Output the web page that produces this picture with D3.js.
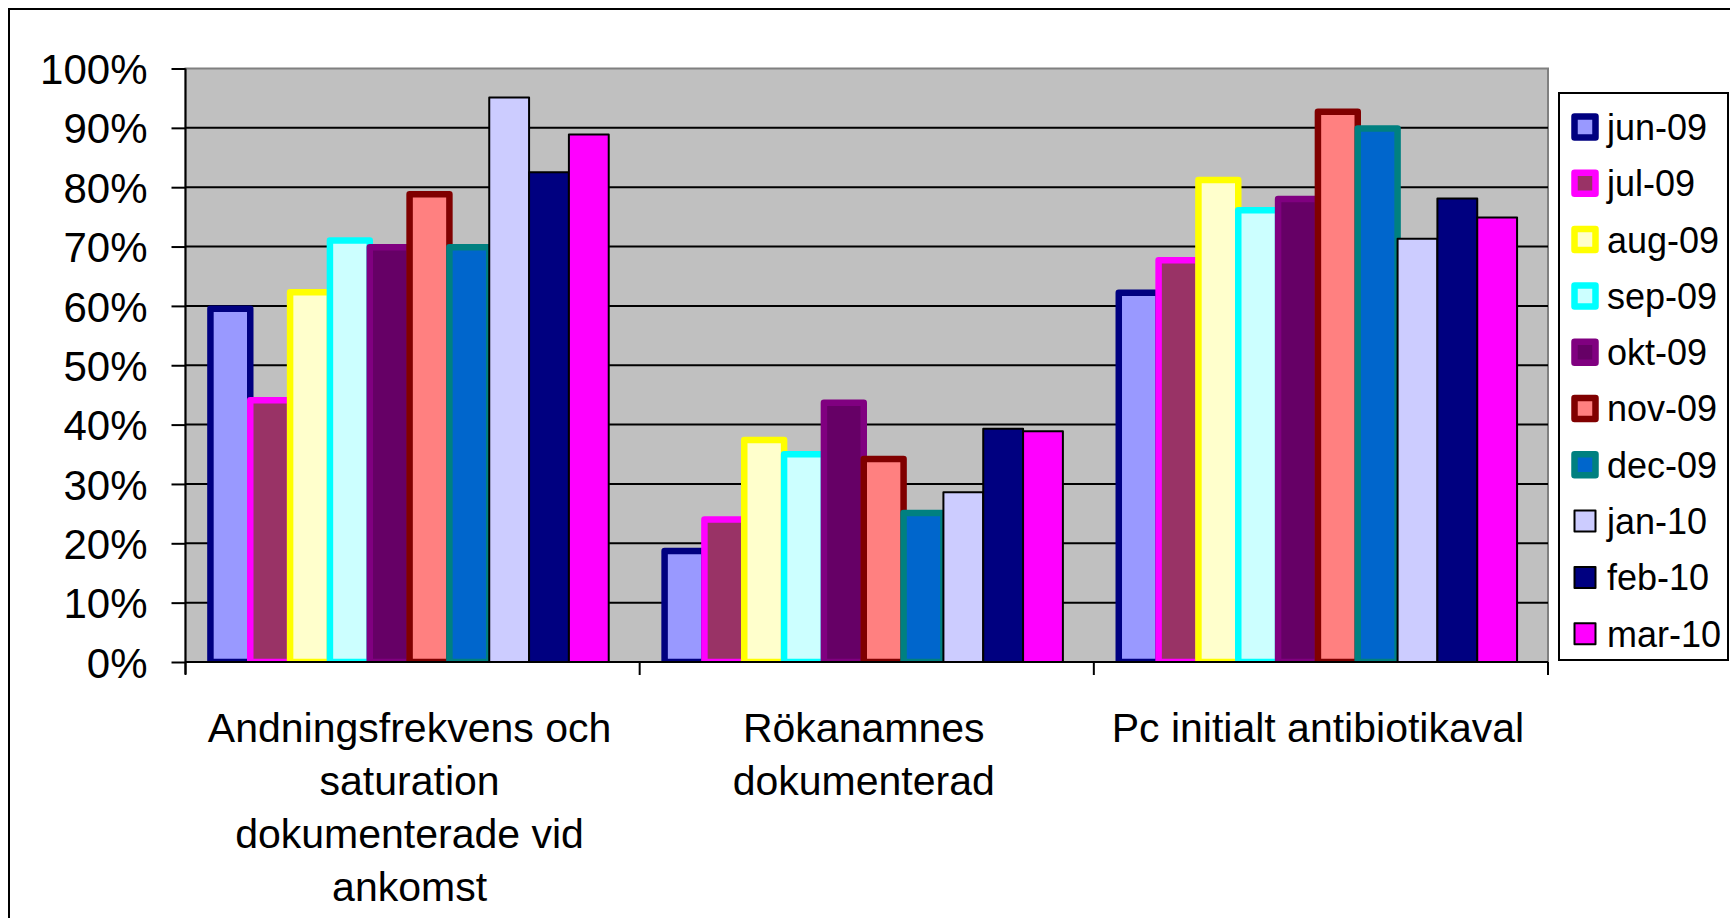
<!DOCTYPE html>
<html>
<head>
<meta charset="utf-8">
<script src="https://cdn.jsdelivr.net/npm/d3@7"></script>
<style>
  body { margin: 0; background: #fff; }
  text { font-family: Arial, "Liberation Sans", sans-serif; fill: #000; }
</style>
</head>
<body>
<svg id="chart" width="1730" height="918"></svg>
<script>
const categories = ['Andningsfrekvens och saturation dokumenterade vid ankomst',
                    'Rökanamnes dokumenterad',
                    'Pc initialt antibiotikaval'];
const categoryLines = [['Andningsfrekvens och', 'saturation', 'dokumenterade vid', 'ankomst'],
                       ['Rökanamnes', 'dokumenterad'],
                       ['Pc initialt antibiotikaval']];
const months = ['jun-09','jul-09','aug-09','sep-09','okt-09','nov-09','dec-09','jan-10','feb-10','mar-10'];

// one array per month, values per category
const jun09 = [0.595, 0.187, 0.622];
const jul09 = [0.441, 0.240, 0.677];
const aug09 = [0.623, 0.374, 0.812];
const sep09 = [0.710, 0.350, 0.761];
const okt09 = [0.699, 0.437, 0.780];
const nov09 = [0.788, 0.342, 0.927];
const dec09 = [0.699, 0.251, 0.899];
const jan10 = [0.951, 0.286, 0.713];
const feb10 = [0.825, 0.393, 0.781];
const mar10 = [0.889, 0.389, 0.749];
const series = [jun09, jul09, aug09, sep09, okt09, nov09, dec09, jan10, feb10, mar10];

const fills   = ['#9999FF','#993366','#FFFFCC','#CCFFFF','#660066','#FF8080','#0066CC','#CCCCFF','#000080','#FF00FF'];
const strokes = ['#000080','#FF00FF','#FFFF00','#00FFFF','#800080','#800000','#008080','#000000','#000000','#000000'];
const thick   = [true, true, true, true, true, true, true, false, false, false];

const yTicks = [0, 0.1, 0.2, 0.3, 0.4, 0.5, 0.6, 0.7, 0.8, 0.9, 1.0];

const plotL = 185.5, plotR = 1548, plotT = 68.5, plotB = 662;
const thickW = 6.5, thinW = 2;
const groupShift = -3;  // Excel sits the bar groups a touch left of centre

const svg = d3.select('#chart');

// chart frame
svg.append('rect')
    .attr('x', 9).attr('y', 9)
    .attr('width', 1760).attr('height', 960)
    .style('fill', 'white')
    .style('stroke', 'black')
    .style('stroke-width', 2);

let y = d3.scaleLinear().domain([0, 1]).range([plotB, plotT]);
let x0 = d3.scaleBand()
    .domain(categories)
    .range([plotL + groupShift, plotR + groupShift])
    .paddingInner(0.123)
    .paddingOuter(0.0615);
let x1 = d3.scaleBand()
    .domain(months)
    .range([0, x0.bandwidth()]);

// plot area
svg.append('rect')
    .attr('x', plotL).attr('y', plotT)
    .attr('width', plotR - plotL).attr('height', plotB - plotT)
    .style('fill', '#C0C0C0')
    .style('stroke', '#808080')
    .style('stroke-width', 2);

svg.append('g')
    .selectAll('line')
    .data(yTicks.slice(1, -1))
    .enter().append('line')
    .attr('x1', plotL).attr('x2', plotR)
    .attr('y1', d => y(d)).attr('y2', d => y(d))
    .style('stroke', 'black')
    .style('stroke-width', 2);

svg.append('clipPath').attr('id', 'plotclip')
    .append('rect')
    .attr('x', plotL).attr('y', 0)
    .attr('width', plotR - plotL).attr('height', plotB);

// bars, drawn month by month so later borders sit on top
let bars = svg.append('g').attr('clip-path', 'url(#plotclip)');
months.forEach((m, i) => {
    bars.selectAll('.bar-' + i)
        .data(series[i])
        .enter().append('rect')
        .attr('class', 'bar-' + i)
        .attr('x', (d, c) => x0(categories[c]) + x1(m))
        .attr('y', d => y(d))
        .attr('width', x1.bandwidth())
        .attr('height', d => plotB - y(d))
        .style('fill', fills[i])
        .style('stroke', strokes[i])
        .style('stroke-width', thick[i] ? thickW : thinW)
        .style('stroke-linejoin', 'round');
});

// y axis
let yAxis = svg.append('g')
    .attr('transform', `translate(${plotL},0)`)
    .call(d3.axisLeft(y)
        .tickValues(yTicks)
        .tickSize(14)
        .tickPadding(24)
        .tickFormat(d3.format('.0%')));
yAxis.select('.domain').remove();
yAxis.selectAll('.tick line').style('stroke', 'black').style('stroke-width', 2);
yAxis.selectAll('.tick text')
    .style('font-size', '42px')
    .attr('dy', '0.36em');
svg.append('line')
    .attr('x1', plotL).attr('x2', plotL)
    .attr('y1', plotT).attr('y2', plotB + 12)
    .style('stroke', 'black').style('stroke-width', 2);

// x axis
svg.append('line')
    .attr('x1', plotL).attr('x2', plotR)
    .attr('y1', plotB).attr('y2', plotB)
    .style('stroke', 'black').style('stroke-width', 2);
let bounds = d3.range(categories.length + 1).map(i => plotL + i * (plotR - plotL) / categories.length);
svg.append('g')
    .selectAll('line')
    .data(bounds)
    .enter().append('line')
    .attr('x1', d => d).attr('x2', d => d)
    .attr('y1', plotB).attr('y2', plotB + 13)
    .style('stroke', 'black').style('stroke-width', 2);

let catLabels = svg.append('g')
    .selectAll('text')
    .data(categories)
    .enter().append('text')
    .attr('x', d => x0(d) + x0.bandwidth() / 2)
    .attr('y', 742)
    .attr('text-anchor', 'middle')
    .style('font-size', '41px');
catLabels.selectAll('tspan')
    .data((d, i) => categoryLines[i])
    .enter().append('tspan')
    .attr('x', function() { return this.parentNode.getAttribute('x'); })
    .attr('dy', (d, i) => i === 0 ? 0 : 53)
    .text(d => d);

// legend
const legX = 1559, legY = 93, legW = 169, legH = 567;
svg.append('rect')
    .attr('x', legX).attr('y', legY)
    .attr('width', legW).attr('height', legH)
    .style('fill', 'white')
    .style('stroke', 'black')
    .style('stroke-width', 2);
let leg = svg.append('g')
    .selectAll('g')
    .data(months)
    .enter().append('g')
    .attr('transform', (d, i) => `translate(${legX + 26},${127 + i * 56.3})`);
leg.append('rect')
    .attr('x', -10.5).attr('y', -10.5)
    .attr('width', 21).attr('height', 21)
    .style('fill', (d, i) => fills[i])
    .style('stroke', (d, i) => strokes[i])
    .style('stroke-width', (d, i) => thick[i] ? thickW : thinW)
    .style('stroke-linejoin', 'round');
leg.append('text')
    .attr('x', 22)
    .attr('dy', '0.36em')
    .style('font-size', '36px')
    .text(d => d);
</script>
</body>
</html>
